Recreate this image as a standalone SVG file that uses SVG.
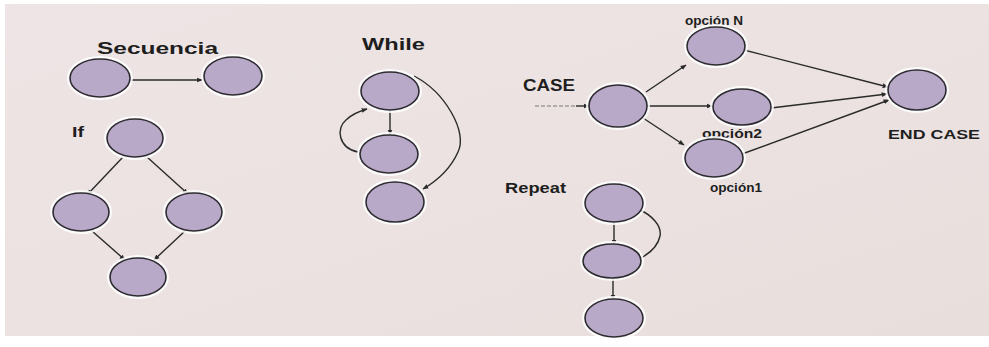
<svg xmlns="http://www.w3.org/2000/svg" width="989" height="347" viewBox="0 0 989 347">
<defs>
<marker id="ah" viewBox="0 0 10 10" refX="9" refY="5" markerWidth="6" markerHeight="6" orient="auto" markerUnits="userSpaceOnUse">
<path d="M0,1 L10,5 L0,9 z" fill="#2a2a2a"/>
</marker>
<linearGradient id="bg" x1="0" y1="0" x2="1" y2="1">
<stop offset="0" stop-color="#eee4e5"/>
<stop offset="0.5" stop-color="#ebe2e1"/>
<stop offset="1" stop-color="#e8dfdd"/>
</linearGradient>
</defs>
<style>
.n ellipse.h{fill:none;stroke:#ffffff;stroke-width:6;opacity:0.85}
.n ellipse.b{fill:#b9a9c9;stroke:#2e2b30;stroke-width:1.6}
.e{fill:none;stroke:#2a2a2a;stroke-width:1.4}
.a{marker-end:url(#ah)}
.t{font-family:"Liberation Sans",Arial,sans-serif;font-weight:bold;fill:#1e1e1e}
</style>
<rect x="0" y="0" width="989" height="347" fill="#ffffff"/>
<rect x="5" y="4" width="984" height="332" fill="url(#bg)"/>

<g id="labels">
<text class="t" x="97" y="54" font-size="17" textLength="121" lengthAdjust="spacingAndGlyphs">Secuencia</text>
<text class="t" x="72" y="137" font-size="15" textLength="12" lengthAdjust="spacingAndGlyphs">If</text>
<text class="t" x="362" y="50" font-size="16" textLength="63" lengthAdjust="spacingAndGlyphs">While</text>
<text class="t" x="523" y="91" font-size="16" textLength="52" lengthAdjust="spacingAndGlyphs">CASE</text>
<text class="t" x="505" y="193" font-size="15" textLength="61" lengthAdjust="spacingAndGlyphs">Repeat</text>
<text class="t" x="685" y="25" font-size="12" textLength="58" lengthAdjust="spacingAndGlyphs">opción N</text>
<text class="t" x="702" y="138" font-size="12" textLength="60" lengthAdjust="spacingAndGlyphs">opción2</text>
<text class="t" x="710" y="192" font-size="12" textLength="52" lengthAdjust="spacingAndGlyphs">opción1</text>
<text class="t" x="888" y="139" font-size="12" textLength="92" lengthAdjust="spacingAndGlyphs">END CASE</text>
</g>

<g id="connectors">
<line class="e a" x1="130" y1="80" x2="202" y2="80"/>
<line class="e a" x1="123" y1="157" x2="87" y2="195"/>
<line class="e a" x1="147" y1="157" x2="188" y2="194"/>
<line class="e a" x1="92" y1="231" x2="125" y2="260"/>
<line class="e a" x1="185" y1="231" x2="154" y2="260"/>
<line class="e a" x1="390" y1="110" x2="390" y2="135"/>
<path class="e a" d="M358,152 C338,148 336,128 346,120 C352,114 360,111 367,109"/>
<path class="e a" d="M414,76 C445,92 468,132 458,152 C450,170 435,182 423,189"/>
<line x1="535" y1="106" x2="576" y2="106" stroke="#777" stroke-width="1" stroke-dasharray="4,2"/>
<line class="e a" x1="576" y1="106" x2="589" y2="106"/>
<line class="e a" x1="646" y1="92" x2="686" y2="65"/>
<line class="e a" x1="647" y1="106" x2="712" y2="106"/>
<line class="e a" x1="643" y1="118" x2="684" y2="145"/>
<line class="e a" x1="744" y1="50" x2="888" y2="87"/>
<line class="e a" x1="771" y1="108" x2="887" y2="94"/>
<line class="e a" x1="742" y1="154" x2="889" y2="100"/>
<line class="e a" x1="614" y1="222" x2="614" y2="245"/>
<line class="e a" x1="613" y1="277" x2="613" y2="300"/>
<path class="e" d="M638,209 C652,215 662,226 660,236 C658,246 650,253 641,258"/>
</g>

<g id="seq1" class="n"><ellipse class="h" cx="100" cy="78" rx="30" ry="19"/><ellipse class="b" cx="100" cy="78" rx="30" ry="19"/></g>
<g id="seq2" class="n"><ellipse class="h" cx="233" cy="76" rx="29" ry="19"/><ellipse class="b" cx="233" cy="76" rx="29" ry="19"/></g>
<g id="if-top" class="n"><ellipse class="h" cx="135" cy="138" rx="28" ry="19"/><ellipse class="b" cx="135" cy="138" rx="28" ry="19"/></g>
<g id="if-left" class="n"><ellipse class="h" cx="81" cy="212" rx="28" ry="19"/><ellipse class="b" cx="81" cy="212" rx="28" ry="19"/></g>
<g id="if-right" class="n"><ellipse class="h" cx="194" cy="212" rx="28" ry="19"/><ellipse class="b" cx="194" cy="212" rx="28" ry="19"/></g>
<g id="if-bottom" class="n"><ellipse class="h" cx="138" cy="277" rx="28" ry="19"/><ellipse class="b" cx="138" cy="277" rx="28" ry="19"/></g>
<g id="while1" class="n"><ellipse class="h" cx="390" cy="91" rx="29" ry="19"/><ellipse class="b" cx="390" cy="91" rx="29" ry="19"/></g>
<g id="while2" class="n"><ellipse class="h" cx="389" cy="154" rx="29" ry="19"/><ellipse class="b" cx="389" cy="154" rx="29" ry="19"/></g>
<g id="while3" class="n"><ellipse class="h" cx="395" cy="202" rx="29" ry="20"/><ellipse class="b" cx="395" cy="202" rx="29" ry="20"/></g>
<g id="case" class="n"><ellipse class="h" cx="618" cy="106" rx="29" ry="21"/><ellipse class="b" cx="618" cy="106" rx="29" ry="21"/></g>
<g id="opcionN" class="n"><ellipse class="h" cx="716" cy="46" rx="29" ry="19"/><ellipse class="b" cx="716" cy="46" rx="29" ry="19"/></g>
<g id="opcion2" class="n"><ellipse class="h" cx="742" cy="107" rx="29" ry="18"/><ellipse class="b" cx="742" cy="107" rx="29" ry="18"/></g>
<g id="opcion1" class="n"><ellipse class="h" cx="714" cy="158" rx="29" ry="19"/><ellipse class="b" cx="714" cy="158" rx="29" ry="19"/></g>
<g id="endcase" class="n"><ellipse class="h" cx="917" cy="90" rx="29" ry="20"/><ellipse class="b" cx="917" cy="90" rx="29" ry="20"/></g>
<g id="rep1" class="n"><ellipse class="h" cx="614" cy="203" rx="29" ry="19"/><ellipse class="b" cx="614" cy="203" rx="29" ry="19"/></g>
<g id="rep2" class="n"><ellipse class="h" cx="612" cy="261" rx="29" ry="17"/><ellipse class="b" cx="612" cy="261" rx="29" ry="17"/></g>
<g id="rep3" class="n"><ellipse class="h" cx="614" cy="318" rx="29" ry="19"/><ellipse class="b" cx="614" cy="318" rx="29" ry="19"/></g>
</svg>
